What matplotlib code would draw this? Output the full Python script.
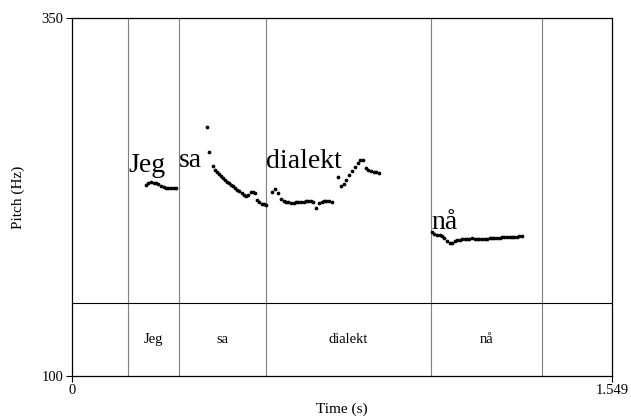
import matplotlib
matplotlib.use('Agg')
import matplotlib.pyplot as plt

plt.rcParams['font.family'] = ['Liberation Serif', 'DejaVu Serif']

# pitch track (time in s, pitch in Hz), one list per word
jeg_t = [0.2123, 0.2194, 0.2266, 0.2338, 0.2410, 0.2481, 0.2553, 0.2625, 0.2696,
         0.2768, 0.2840, 0.2912, 0.2983]
jeg_hz = [233.4, 234.8, 235.5, 235.1, 234.8, 234.1, 233.0, 232.0, 231.6,
          231.3, 231.3, 231.6, 231.3]

sa_t = [0.3864, 0.3939, 0.4036, 0.4102, 0.4159, 0.4208, 0.4265, 0.4323, 0.4380,
        0.4438, 0.4495, 0.4552, 0.4610, 0.4667, 0.4733, 0.4799, 0.4868, 0.4934,
        0.4991, 0.5057, 0.5126, 0.5183, 0.5249, 0.5315, 0.5373, 0.5442, 0.5508, 0.5565]
sa_hz = [273.7, 256.2, 246.9, 243.9, 242.2, 240.9, 239.5, 238.1, 236.9,
         235.7, 234.6, 233.4, 232.5, 231.3, 230.1, 229.0, 227.8, 226.6,
         225.7, 226.4, 228.3, 228.7, 228.0, 222.9, 221.3, 220.3, 219.9, 219.4]

dialekt_t = [0.5737, 0.5823, 0.5909, 0.5995, 0.6067, 0.6139, 0.6210, 0.6282, 0.6354,
             0.6426, 0.6497, 0.6569, 0.6641, 0.6712, 0.6784, 0.6856, 0.6927, 0.7013,
             0.7085, 0.7157, 0.7229, 0.7300, 0.7372, 0.7444, 0.7622, 0.7716, 0.7788,
             0.7874, 0.7960, 0.8046, 0.8118, 0.8190, 0.8261, 0.8347, 0.8433, 0.8505,
             0.8577, 0.8649, 0.8720, 0.8792]
dialekt_hz = [228.8, 230.6, 228.1, 223.6, 222.2, 221.5, 221.2, 220.8, 220.8,
              221.2, 221.2, 221.5, 221.5, 221.9, 221.9, 221.9, 221.5, 217.3,
              220.8, 221.5, 221.9, 221.9, 221.9, 221.5, 239.2, 232.7, 234.1,
              237.2, 240.7, 243.5, 246.0, 248.4, 250.5, 250.5, 245.6, 244.2,
              243.5, 242.8, 242.5, 242.1]

na_t = [1.0327, 1.0398, 1.0470, 1.0542, 1.0613, 1.0685, 1.0757, 1.0829, 1.0900,
        1.0972, 1.1044, 1.1116, 1.1187, 1.1259, 1.1331, 1.1402, 1.1474, 1.1546,
        1.1617, 1.1689, 1.1761, 1.1833, 1.1904, 1.1976, 1.2048, 1.2119, 1.2191,
        1.2263, 1.2335, 1.2406, 1.2478, 1.2550, 1.2621, 1.2693, 1.2765, 1.2836, 1.2908]
na_hz = [200.6, 199.2, 198.8, 198.8, 198.1, 196.4, 194.3, 192.9, 193.2,
         194.3, 195.0, 195.3, 195.7, 196.0, 196.0, 196.0, 196.4, 196.0,
         195.7, 195.7, 195.7, 196.0, 196.0, 196.4, 196.7, 196.7, 196.7,
         196.7, 197.1, 197.4, 197.4, 197.4, 197.4, 197.4, 197.4, 197.8, 197.8]

# text grid
boundaries = [0.1618, 0.3064, 0.5551, 1.0312, 1.3494]
words = ['Jeg', 'sa', 'dialekt', 'nå']
word_label_hz = [242.5, 246.0, 245.3, 202.7]

t_max = 1.549
hz_min, hz_max = 100, 350
tier_hz = 151.0

fig = plt.figure(figsize=(6.31, 4.18), dpi=100)
ax = fig.add_axes([0.1141, 0.1005, 0.8558, 0.8564])

for b in boundaries:
    ax.axvline(b, color='#7f7f7f', lw=0.8)
ax.axhline(tier_hz, color='black', lw=0.8)

for t, hz in [(jeg_t, jeg_hz), (sa_t, sa_hz), (dialekt_t, dialekt_hz), (na_t, na_hz)]:
    ax.plot(t, hz, 'o', color='black', ms=2.7, mew=0)

for i, w in enumerate(words):
    ax.text(boundaries[i], word_label_hz[i], w, fontsize=20, ha='left', va='baseline')
    mid = (boundaries[i] + boundaries[i + 1]) / 2
    ax.text(mid, (hz_min + tier_hz) / 2, w, fontsize=10.5, ha='center', va='center')

ax.set_xlim(0, t_max)
ax.set_ylim(hz_min, hz_max)
ax.set_xticks([0, t_max])
ax.set_xticklabels(['0', '1.549'])
ax.set_yticks([hz_min, hz_max])
ax.set_yticklabels(['100', '350'])
ax.tick_params(length=4, width=0.8, labelsize=10.5, pad=2)
for s in ax.spines.values():
    s.set_linewidth(0.9)
ax.set_xlabel('Time (s)', fontsize=11, labelpad=4)
ax.set_ylabel('Pitch (Hz)', fontsize=11, labelpad=12)

fig.savefig('out.png', dpi=100)
